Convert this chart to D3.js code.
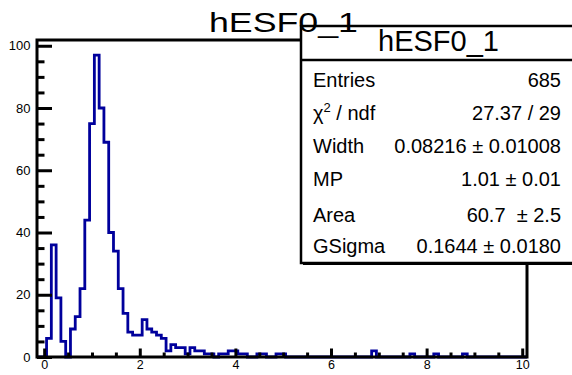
<!DOCTYPE html>
<html>
<head>
<meta charset="utf-8">
<script src="https://cdn.jsdelivr.net/npm/d3@7"></script>
<style>
  html, body { margin: 0; padding: 0; background: #fff; }
  svg { display: block; font-family: "Liberation Sans", Arial, Helvetica, sans-serif; }
</style>
</head>
<body>
<svg id="chart" width="572" height="375"></svg>
<script>
// ---- data ----
const histTitle = "hESF0_1";
const xDomain = [-0.15, 10.1];
const binWidth = 0.1;
const binCenters = [0.1,0.2,0.3,0.4,0.5,0.6,0.7,0.8,0.9,1.0,
                    1.1,1.2,1.3,1.4,1.5,1.6,1.7,1.8,1.9,2.0,
                    2.1,2.2,2.3,2.4,2.5,2.6,2.7,2.8,2.9,3.0,
                    3.1,3.2,3.3,3.4,3.5,3.6,3.7,3.8,3.9,4.0,
                    4.1,4.2,4.3,4.4,4.5,4.6,4.7,4.8,4.9,5.0,
                    5.1,6.8,6.9,7.0,7.6,7.7,7.8,8.1,8.2,8.3,8.7,8.8,8.9];
const binCounts  = [6,36,19,5,0,9,13,22,44,75,
                    97,80,69,40,34,22,14,8,7,7,
                    12,9,8,7,6,2,4,3,3,1,
                    3,2,2,1,1,0,1,1,2,2,
                    1,1,0,0,1,1,0,0,1,1,
                    0,0,2,0,0,1,0,0,1,0,0,1,0];
const yMax = 101.85;
const xTickMajor = [0,2,4,6,8,10];
const xTickMinor = [0.5,1,1.5,2.5,3,3.5,4.5,5,5.5,6.5,7,7.5,8.5,9,9.5];
const yTickMajor = [0,20,40,60,80,100];
const yTickMinor = [5,10,15,25,30,35,45,50,55,65,70,75,85,90,95];
const statTitle = "hESF0_1";
const statLabels = ["Entries", "χ^2 / ndf", "Width", "MP", "Area", "GSigma"];
const statValues = ["685", "27.37 / 29", "0.08216 ± 0.01008", "1.01 ± 0.01", "60.7  ± 2.5", "0.1644 ± 0.0180"];

// ---- layout ----
const svg = d3.select("#chart");
const frame = {left: 37, right: 527, top: 40, bottom: 357};
const x = d3.scaleLinear().domain(xDomain).range([frame.left, frame.right]);
const y = d3.scaleLinear().domain([0, yMax]).range([frame.bottom, frame.top]);

// histogram step outline
const pts = [];
binCenters.forEach((c, i) => {
  const lo = c - binWidth / 2, hi = c + binWidth / 2;
  pts.push([x(lo), y(binCounts[i])]);
  pts.push([x(hi), y(binCounts[i])]);
});
const first = binCenters[0] - binWidth / 2;
const last = binCenters[binCenters.length - 1] + binWidth / 2;
const path = [[x(xDomain[0]), y(0)], [x(first), y(0)]].concat(pts, [[x(last), y(0)], [x(xDomain[1]), y(0)]]);

svg.append("path")
  .attr("d", d3.line()(path))
  .attr("fill", "none")
  .attr("stroke", "#00009c")
  .attr("stroke-width", 2.8)
  .attr("stroke-linejoin", "miter");

// frame
svg.append("rect")
  .attr("x", frame.left).attr("y", frame.top)
  .attr("width", frame.right - frame.left).attr("height", frame.bottom - frame.top)
  .attr("fill", "none").attr("stroke", "#000").attr("stroke-width", 3);

// axes
const yAxis = d3.axisLeft(y).tickValues(yTickMajor).tickSizeInner(-15).tickSizeOuter(0).tickPadding(6.5).tickFormat(d3.format("d"));
const gy = svg.append("g").attr("transform", `translate(${frame.left},0)`).call(yAxis);
gy.select(".domain").remove();
gy.selectAll(".tick line").attr("stroke", "#000").attr("stroke-width", 3);
gy.selectAll(".tick text").attr("font-size", 13).attr("font-family", "Liberation Sans, Arial, sans-serif").attr("fill", "#000");

const yAxisMinor = d3.axisLeft(y).tickValues(yTickMinor).tickSizeInner(-7.5).tickSizeOuter(0).tickFormat("");
const gym = svg.append("g").attr("transform", `translate(${frame.left},0)`).call(yAxisMinor);
gym.select(".domain").remove();
gym.selectAll(".tick line").attr("stroke", "#000").attr("stroke-width", 3);

const xAxis = d3.axisBottom(x).tickValues(xTickMajor).tickSizeInner(-8.5).tickSizeOuter(0).tickPadding(3).tickFormat(d3.format("d"));
const gx = svg.append("g").attr("transform", `translate(0,${frame.bottom})`).call(xAxis);
gx.select(".domain").remove();
gx.selectAll(".tick line").attr("stroke", "#000").attr("stroke-width", 3);
gx.selectAll(".tick text").attr("font-size", 12.5).attr("font-family", "Liberation Sans, Arial, sans-serif").attr("fill", "#000");

const xAxisMinor = d3.axisBottom(x).tickValues(xTickMinor).tickSizeInner(-4.5).tickSizeOuter(0).tickFormat("");
const gxm = svg.append("g").attr("transform", `translate(0,${frame.bottom})`).call(xAxisMinor);
gxm.select(".domain").remove();
gxm.selectAll(".tick line").attr("stroke", "#000").attr("stroke-width", 3);

// stats box
const box = {left: 301, top: 26, right: 576, bottom: 263, header: 60};
svg.append("rect")
  .attr("x", box.left + 2).attr("y", box.top + 2)
  .attr("width", box.right - box.left).attr("height", box.bottom - box.top)
  .attr("fill", "#000");
svg.append("rect")
  .attr("x", box.left).attr("y", box.top)
  .attr("width", box.right - box.left).attr("height", box.bottom - box.top)
  .attr("fill", "#fff").attr("stroke", "#000").attr("stroke-width", 2.5);
svg.append("line")
  .attr("x1", box.left).attr("x2", box.right)
  .attr("y1", box.header).attr("y2", box.header)
  .attr("stroke", "#000").attr("stroke-width", 2.5);
svg.append("text")
  .attr("x", 438.5).attr("y", 51)
  .attr("text-anchor", "middle").attr("font-size", 29)
  .text(statTitle);

const rowBase = [86.5, 119.5, 153, 186, 221.5, 253];
statLabels.forEach((lab, i) => {
  const t = svg.append("text").attr("x", 313).attr("y", rowBase[i]).attr("font-size", 20);
  if (lab.includes("^")) {
    const [a, rest] = lab.split("^");
    t.append("tspan").text(a);
    t.append("tspan").attr("font-size", 13).attr("dy", -8).text(rest[0]);
    t.append("tspan").attr("dy", 8).text(rest.slice(1));
  } else {
    t.text(lab);
  }
  svg.append("text").attr("x", 561).attr("y", rowBase[i])
    .attr("text-anchor", "end").attr("font-size", 20)
    .style("white-space", "pre")
    .text(statValues[i]);
});

// main title (drawn on top)
svg.append("text")
  .attr("x", 209).attr("y", 32)
  .attr("font-size", 28)
  .attr("textLength", 149).attr("lengthAdjust", "spacingAndGlyphs")
  .text(histTitle);
</script>
</body>
</html>
